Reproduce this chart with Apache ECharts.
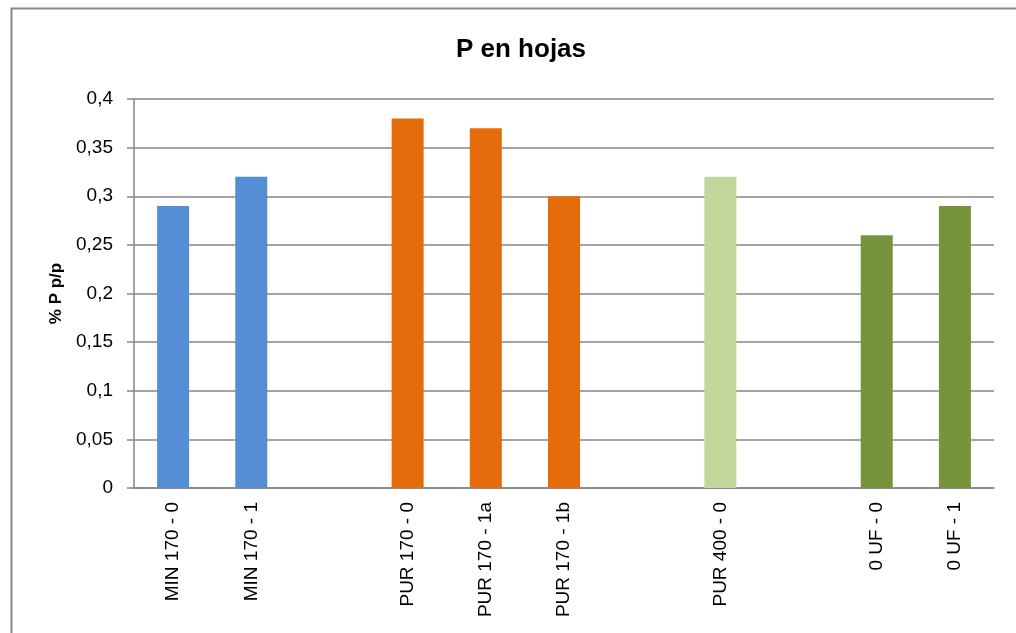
<!DOCTYPE html>
<html>
<head>
<meta charset="utf-8">
<script src="https://cdn.jsdelivr.net/npm/echarts@6/dist/echarts.min.js"></script>
<style>html,body{margin:0;padding:0;background:#fff}#c{width:1016px;height:633px}</style>
</head>
<body>
<div id="c"></div>
<script>
// Data
const categories = ['MIN 170 - 0', 'MIN 170 - 1', '', 'PUR 170 - 0', 'PUR 170 - 1a', 'PUR 170 - 1b', '', 'PUR 400 - 0', '', '0 UF - 0', '0 UF - 1'];
const values = [0.29, 0.32, null, 0.38, 0.37, 0.30, null, 0.32, null, 0.26, 0.29];
const groups = ['MIN', 'MIN', '', 'PUR170', 'PUR170', 'PUR170', '', 'PUR400', '', 'UF', 'UF'];
const yTicks = [0, 0.05, 0.1, 0.15, 0.2, 0.25, 0.3, 0.35, 0.4];

const groupColors = { MIN: '#558ED5', PUR170: '#E46C0A', PUR400: '#C3D69B', UF: '#77933C' };

const chart = echarts.init(document.getElementById('c'));
const FONT = 'Liberation Sans';
chart.setOption({
  backgroundColor: '#ffffff',
  animation: false,
  title: {
    text: 'P en hojas',
    left: 516,
    top: 32,
    textAlign: 'center',
    textStyle: { fontFamily: FONT, fontSize: 26, fontWeight: 'bold', color: '#000' }
  },
  graphic: [{
    type: 'rect',
    left: 9, top: 6,
    shape: { width: 1100, height: 700 },
    style: { fill: 'none', stroke: '#898989', lineWidth: 2 },
    silent: true
  }],
  grid: { left: 134, right: 22, top: 99, bottom: 145 },
  xAxis: {
    type: 'category',
    data: categories,
    axisLine: { lineStyle: { color: '#868686', width: 1.5 } },
    axisTick: { show: false },
    axisLabel: {
      rotate: 90, interval: 0, margin: 14,
      fontFamily: FONT, fontSize: 19, color: '#000'
    }
  },
  yAxis: {
    type: 'value',
    min: yTicks[0], max: yTicks[yTicks.length - 1], interval: 0.05,
    name: '% P p/p',
    nameLocation: 'middle',
    nameGap: 66,
    nameTextStyle: { fontFamily: FONT, fontSize: 17, fontWeight: 'bold', color: '#000' },
    axisLine: { show: true, lineStyle: { color: '#868686', width: 1.5 } },
    axisTick: { show: true, length: 7, lineStyle: { color: '#868686', width: 1.5 } },
    splitLine: { lineStyle: { color: '#868686', width: 1.5 } },
    axisLabel: {
      margin: 21, fontFamily: FONT, fontSize: 19, color: '#000',
      formatter: v => String(Math.round(v * 100) / 100).replace('.', ',')
    }
  },
  series: [{
    type: 'bar',
    barWidth: 32,
    data: values.map((v, i) => ({ value: v, itemStyle: { color: groupColors[groups[i]] || '#ccc' } }))
  }]
});
</script>
</body>
</html>
